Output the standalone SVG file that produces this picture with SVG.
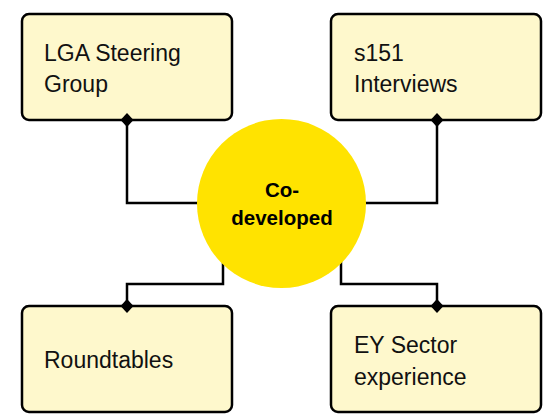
<svg xmlns="http://www.w3.org/2000/svg" width="559" height="414" viewBox="0 0 559 414">
  <style>
    .box { fill: #FEF8CC; stroke: #000; stroke-width: 2.5; }
    .label { font-family: "Liberation Sans", Arial, sans-serif; font-size: 23px; fill: #111; }
    .hub { fill: #FFE300; }
    .hub-label { font-family: "Liberation Sans", Arial, sans-serif; font-size: 20.5px; font-weight: bold; fill: #000; text-anchor: middle; }
    .wire { fill: none; stroke: #000; stroke-width: 2.5; }
    .knot { fill: #000; }
  </style>
  <defs>
    <path id="diamond" d="M0,-7 L6.5,0 L0,7 L-6.5,0 Z"/>
  </defs>

  <!-- elbow connectors from the hub to each source box -->
  <g id="connectors">
    <path class="wire" d="M127,120 V203 H210"/>
    <path class="wire" d="M437,120 V203 H355"/>
    <path class="wire" d="M223,258 V284 H127 V306"/>
    <path class="wire" d="M341,258 V284 H437 V306"/>
  </g>

  <g id="hub">
    <circle class="hub" cx="281.5" cy="203.5" r="84.5"/>
    <text class="hub-label" x="282" y="197">Co-</text>
    <text class="hub-label" x="282" y="225">developed</text>
  </g>

  <g id="lga-steering-group">
    <rect class="box" x="22" y="14" width="210" height="106" rx="7"/>
    <text class="label" x="44" y="61">LGA Steering</text>
    <text class="label" x="44" y="92">Group</text>
  </g>

  <g id="s151-interviews">
    <rect class="box" x="331" y="14" width="210" height="106" rx="7"/>
    <text class="label" x="354" y="61">s151</text>
    <text class="label" x="354" y="92">Interviews</text>
  </g>

  <g id="roundtables">
    <rect class="box" x="22" y="306" width="210" height="106" rx="7"/>
    <text class="label" x="44" y="368">Roundtables</text>
  </g>

  <g id="ey-sector-experience">
    <rect class="box" x="331" y="306" width="210" height="106" rx="7"/>
    <text class="label" x="354" y="353">EY Sector</text>
    <text class="label" x="354" y="385">experience</text>
  </g>

  <!-- connector ends: diamonds drawn over the box borders -->
  <g id="connector-ends">
    <use href="#diamond" class="knot" x="127" y="120"/>
    <use href="#diamond" class="knot" x="437" y="120"/>
    <use href="#diamond" class="knot" x="127" y="306"/>
    <use href="#diamond" class="knot" x="437" y="306"/>
  </g>
</svg>
